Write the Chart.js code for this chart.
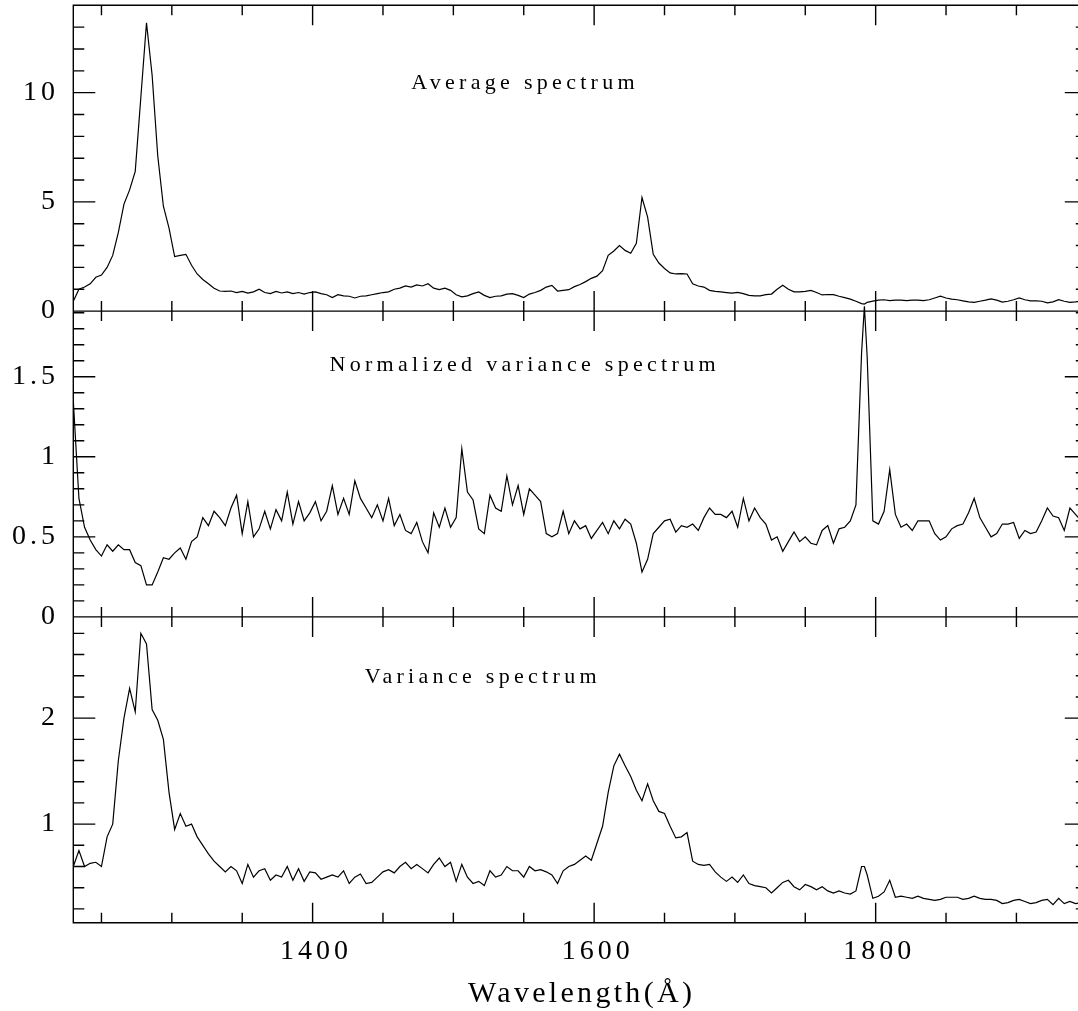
<!DOCTYPE html>
<html>
<head>
<meta charset="utf-8">
<script src="https://cdn.jsdelivr.net/npm/chart.js@4.4.1/dist/chart.umd.min.js"></script>
<style>
  html, body { margin: 0; padding: 0; background: #fff; overflow: hidden; }
  #wrap { position: relative; width: 1090px; height: 1011px; }
</style>
</head>
<body>
<div id="wrap"><canvas id="spec" width="1090" height="1011"></canvas></div>
<script>
// wavelength grid (Angstrom), one row per 40 A
const WAVELENGTH = [
  1230, 1234, 1238, 1242, 1246, 1250, 1254, 1258, 1262, 1266,
  1270, 1274, 1278, 1282, 1286, 1290, 1294, 1298, 1302, 1306,
  1310, 1314, 1318, 1322, 1326, 1330, 1334, 1338, 1342, 1346,
  1350, 1354, 1358, 1362, 1366, 1370, 1374, 1378, 1382, 1386,
  1390, 1394, 1398, 1402, 1406, 1410, 1414, 1418, 1422, 1426,
  1430, 1434, 1438, 1442, 1446, 1450, 1454, 1458, 1462, 1466,
  1470, 1474, 1478, 1482, 1486, 1490, 1494, 1498, 1502, 1506,
  1510, 1514, 1518, 1522, 1526, 1530, 1534, 1538, 1542, 1546,
  1550, 1554, 1558, 1562, 1566, 1570, 1574, 1578, 1582, 1586,
  1590, 1594, 1598, 1602, 1606, 1610, 1614, 1618, 1622, 1626,
  1630, 1634, 1638, 1642, 1646, 1650, 1654, 1658, 1662, 1666,
  1670, 1674, 1678, 1682, 1686, 1690, 1694, 1698, 1702, 1706,
  1710, 1714, 1718, 1722, 1726, 1730, 1734, 1738, 1742, 1746,
  1750, 1754, 1758, 1762, 1766, 1770, 1774, 1778, 1782, 1786,
  1790, 1792, 1794, 1798, 1802, 1806, 1810, 1814, 1818, 1822, 1826,
  1830, 1834, 1838, 1842, 1846, 1850, 1854, 1858, 1862, 1866,
  1870, 1874, 1878, 1882, 1886, 1890, 1894, 1898, 1902, 1906,
  1910, 1914, 1918, 1922, 1926, 1930, 1934, 1938, 1942, 1946,
  1950,
]

const AVERAGE = [
  0.45, 1.0, 1.1, 1.25, 1.55, 1.65, 2.0, 2.55, 3.6, 4.9,
  5.55, 6.4, 9.8, 13.2, 10.8, 7.1, 4.8, 3.8, 2.5, 2.55,
  2.6, 2.1, 1.7, 1.45, 1.25, 1.05, 0.92, 0.9, 0.92, 0.85,
  0.9, 0.82, 0.88, 1.0, 0.85, 0.8, 0.9, 0.83, 0.88, 0.8,
  0.85, 0.78, 0.85, 0.88, 0.8, 0.75, 0.62, 0.75, 0.7, 0.68,
  0.6, 0.68, 0.7, 0.75, 0.8, 0.85, 0.88, 1.0, 1.05, 1.15,
  1.1, 1.2, 1.15, 1.25, 1.05, 0.98, 1.05, 0.95, 0.75, 0.65,
  0.7, 0.8, 0.88, 0.72, 0.62, 0.68, 0.7, 0.78, 0.8, 0.72,
  0.62, 0.78, 0.85, 0.95, 1.1, 1.18, 0.92, 0.95, 0.98, 1.12,
  1.22, 1.35, 1.5, 1.6, 1.85, 2.55, 2.75, 3.0, 2.78, 2.65,
  3.1, 5.2, 4.3, 2.6, 2.2, 1.95, 1.75, 1.7, 1.72, 1.7,
  1.25, 1.15, 1.1, 0.95, 0.9, 0.88, 0.85, 0.82, 0.86, 0.8,
  0.72, 0.7, 0.7, 0.75, 0.78, 1.0, 1.18, 1.0, 0.88, 0.88,
  0.9, 0.95, 0.85, 0.74, 0.76, 0.75, 0.68, 0.62, 0.55, 0.45,
  0.34, 0.32, 0.4, 0.46, 0.5, 0.52, 0.48, 0.5, 0.5, 0.48, 0.5,
  0.5, 0.48, 0.52, 0.6, 0.68, 0.6, 0.55, 0.52, 0.47, 0.42,
  0.4, 0.45, 0.5, 0.56, 0.5, 0.41, 0.45, 0.52, 0.6, 0.52,
  0.47, 0.47, 0.45, 0.38, 0.42, 0.52, 0.45, 0.4, 0.42, 0.46,
  0.45,
]

const NORM_VARIANCE = [
  1.35, 0.74, 0.56, 0.48, 0.42, 0.38, 0.45, 0.41, 0.45, 0.42,
  0.42, 0.34, 0.32, 0.2, 0.2, 0.28, 0.37, 0.36, 0.4, 0.43,
  0.36, 0.47, 0.5, 0.62, 0.57, 0.66, 0.62, 0.57, 0.68, 0.76,
  0.52, 0.72, 0.5, 0.55, 0.66, 0.55, 0.67, 0.6, 0.78, 0.58,
  0.72, 0.6, 0.65, 0.72, 0.6, 0.66, 0.82, 0.64, 0.74, 0.64,
  0.85, 0.74, 0.68, 0.62, 0.7, 0.6, 0.74, 0.57, 0.64, 0.54,
  0.52, 0.59, 0.47, 0.4, 0.65, 0.56, 0.68, 0.56, 0.62, 1.05,
  0.78, 0.73, 0.55, 0.52, 0.76, 0.68, 0.66, 0.88, 0.7, 0.82,
  0.64, 0.8, 0.76, 0.72, 0.52, 0.5, 0.52, 0.66, 0.52, 0.6,
  0.55, 0.57, 0.49, 0.54, 0.59, 0.52, 0.6, 0.55, 0.61, 0.58,
  0.46, 0.28, 0.36, 0.52, 0.56, 0.6, 0.61, 0.53, 0.57, 0.56,
  0.58, 0.54, 0.62, 0.68, 0.64, 0.64, 0.62, 0.66, 0.56, 0.74,
  0.6, 0.68, 0.62, 0.58, 0.48, 0.5, 0.41, 0.47, 0.53, 0.47,
  0.5, 0.46, 0.45, 0.54, 0.57, 0.46, 0.55, 0.56, 0.6, 0.7,
  1.65, 1.94, 1.62, 0.6, 0.58, 0.66, 0.92, 0.64, 0.56, 0.58, 0.54,
  0.6, 0.6, 0.6, 0.52, 0.48, 0.5, 0.55, 0.57, 0.58, 0.65,
  0.74, 0.62, 0.56, 0.5, 0.52, 0.58, 0.58, 0.59, 0.49, 0.54,
  0.52, 0.53, 0.6, 0.68, 0.63, 0.62, 0.54, 0.68, 0.64, 0.6,
  0.6,
]

const VARIANCE = [
  0.6, 0.75, 0.6, 0.63, 0.64, 0.6, 0.88, 1.0, 1.6, 2.0,
  2.28, 2.06, 2.8, 2.7, 2.08, 1.98, 1.8, 1.3, 0.95, 1.1,
  0.98, 1.0, 0.88, 0.8, 0.72, 0.65, 0.6, 0.55, 0.6, 0.56,
  0.44, 0.62, 0.5, 0.56, 0.58, 0.47, 0.52, 0.5, 0.6, 0.47,
  0.58, 0.46, 0.55, 0.54, 0.48, 0.5, 0.52, 0.5, 0.56, 0.44,
  0.5, 0.53, 0.44, 0.45, 0.5, 0.55, 0.57, 0.54, 0.6, 0.64,
  0.58, 0.62, 0.58, 0.54, 0.62, 0.68, 0.6, 0.64, 0.46, 0.62,
  0.5, 0.44, 0.46, 0.42, 0.56, 0.5, 0.52, 0.6, 0.56, 0.56,
  0.5, 0.6, 0.56, 0.57, 0.55, 0.52, 0.44, 0.56, 0.6, 0.62,
  0.66, 0.7, 0.66, 0.82, 0.98, 1.3, 1.55, 1.66, 1.55, 1.45,
  1.32, 1.22, 1.38, 1.22, 1.12, 1.1, 0.98, 0.87, 0.88, 0.92,
  0.65, 0.62, 0.61, 0.62, 0.55, 0.5, 0.46, 0.5, 0.45, 0.52,
  0.44, 0.42, 0.41, 0.4, 0.35, 0.4, 0.45, 0.47, 0.41, 0.38,
  0.43, 0.41, 0.38, 0.41, 0.37, 0.35, 0.37, 0.35, 0.34, 0.37,
  0.6, 0.6, 0.52, 0.3, 0.32, 0.36, 0.47, 0.31, 0.32, 0.31, 0.3,
  0.32, 0.3, 0.29, 0.28, 0.29, 0.31, 0.31, 0.31, 0.29, 0.3,
  0.32, 0.3, 0.29, 0.29, 0.28, 0.25, 0.26, 0.28, 0.29, 0.27,
  0.25, 0.26, 0.28, 0.29, 0.24, 0.3, 0.25, 0.27, 0.25, 0.26,
  0.25,
]

const X_MIN = 1230
const X_MAX = 1950
const X_TICK_STEP = 50
const X_LABEL_STEP = 200

// listed bottom-first: Chart.js stacks left axes with the last one on top
const PANELS = [
  { id: 'yBot', values: VARIANCE, min: 0.07, max: 2.955, step: 0.2, major: 1,
    title: 'Variance spectrum', at: [1437, 2.336] },
  { id: 'yMid', values: NORM_VARIANCE, min: 0, max: 1.91, step: 0.1, major: 0.5,
    title: 'Normalized variance spectrum', at: [1412, 1.535], clipTop: 6 },
  { id: 'yTop', values: AVERAGE, min: 0, max: 14, step: 1, major: 5,
    title: 'Average spectrum', at: [1470, 10.18] },
]

const SERIF = "'Liberation Serif', 'Times New Roman', serif"
const TICK_FONT = { family: SERIF, size: 28 }
const TICK_SPACING = 4

for (const p of PANELS) {
  if (p.values.length !== WAVELENGTH.length) {
    throw new Error(`${p.id}: ${p.values.length} values for ${WAVELENGTH.length} wavelengths`)
  }
}

function isMajor(value, major) {
  const r = value / major
  return Math.abs(r - Math.round(r)) < 1e-6
}

const frame = {
  id: 'frame',
  beforeDraw(chart) {
    chart.ctx.letterSpacing = `${TICK_SPACING}px`
  },
  afterDraw(chart) {
    const { ctx } = chart
    const xs = chart.scales.x
    ctx.save()
    ctx.letterSpacing = '0px'
    ctx.strokeStyle = '#000'
    ctx.lineWidth = 1.4
    ctx.beginPath()
    for (const p of PANELS) {
      const ys = chart.scales[p.id]
      const left = xs.left
      const right = xs.right
      ctx.rect(left, ys.top, right - left, ys.bottom - ys.top)
      for (const t of xs.ticks) {
        const px = xs.getPixelForValue(t.value)
        const len = isMajor(t.value, X_LABEL_STEP) ? 20 : 10
        ctx.moveTo(px, ys.top)
        ctx.lineTo(px, ys.top + len)
        ctx.moveTo(px, ys.bottom)
        ctx.lineTo(px, ys.bottom - len)
      }
      for (const t of ys.ticks) {
        const py = ys.getPixelForValue(t.value)
        const len = isMajor(t.value, p.major) ? 22 : 11
        ctx.moveTo(left, py)
        ctx.lineTo(left + len, py)
        ctx.moveTo(right, py)
        ctx.lineTo(right - len, py)
      }
    }
    ctx.stroke()

    ctx.fillStyle = '#000'
    ctx.font = `22px ${SERIF}`
    ctx.letterSpacing = '4.3px'
    ctx.textAlign = 'left'
    ctx.textBaseline = 'alphabetic'
    for (const p of PANELS) {
      const ys = chart.scales[p.id]
      ctx.fillText(p.title, xs.getPixelForValue(p.at[0]), ys.getPixelForValue(p.at[1]))
    }

    ctx.font = `30px ${SERIF}`
    ctx.letterSpacing = '3.3px'
    ctx.textAlign = 'center'
    ctx.fillText('Wavelength(Å)', (xs.left + xs.right) / 2 + 1.6, xs.top + 79)
    ctx.restore()
  },
}

const scales = {
  x: {
    type: 'linear',
    position: 'bottom',
    min: X_MIN,
    max: X_MAX,
    grid: { display: false, drawTicks: false },
    border: { display: false },
    ticks: {
      stepSize: X_TICK_STEP,
      includeBounds: false,
      autoSkip: false,
      maxRotation: 0,
      padding: 12,
      labelOffset: 3.5,
      color: '#000',
      font: TICK_FONT,
      callback: (v) => isMajor(v, X_LABEL_STEP) ? String(v) : '',
    },
    afterFit: (s) => {
      s.height = 88.3
      s.paddingLeft = 0
      s.paddingRight = 0
    },
  },
}

for (const p of PANELS) {
  scales[p.id] = {
    type: 'linear',
    position: 'left',
    stack: 'panels',
    stackWeight: 1,
    min: p.min,
    max: p.max,
    grid: { display: false, drawTicks: false },
    border: { display: false },
    ticks: {
      stepSize: p.step,
      includeBounds: false,
      autoSkip: false,
      padding: 14.3,
      color: '#000',
      font: TICK_FONT,
      callback: (v) => isMajor(v, p.major) ? String(+v.toFixed(2)) : '',
    },
    afterFit: (s) => {
      s.width = 73.3
      s.paddingTop = 0
      s.paddingBottom = 0
    },
  }
}

new Chart(document.getElementById('spec'), {
  type: 'line',
  data: {
    datasets: PANELS.map((p) => ({
      label: p.title,
      data: WAVELENGTH.map((w, i) => ({ x: w, y: p.values[i] })),
      xAxisID: 'x',
      yAxisID: p.id,
      borderColor: '#000',
      borderWidth: 1.2,
      pointRadius: 0,
      tension: 0,
      fill: false,
      clip: { left: 0, right: 0, bottom: 0, top: p.clipTop || 0 },
    })),
  },
  options: {
    responsive: false,
    animation: false,
    devicePixelRatio: 1,
    layout: { padding: { top: 5.3, right: 3.2, bottom: 0, left: 0 } },
    plugins: { legend: { display: false }, tooltip: { enabled: false } },
    scales,
  },
  plugins: [frame],
})
</script>
</body>
</html>
